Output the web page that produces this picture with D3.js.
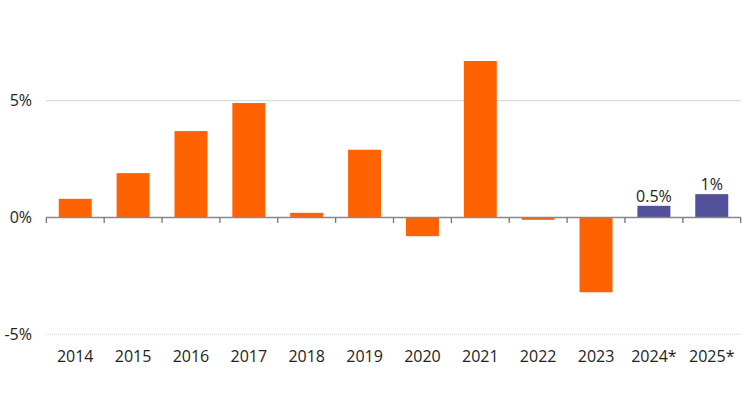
<!DOCTYPE html>
<html>
<head>
<meta charset="utf-8">
<script src="https://cdn.jsdelivr.net/npm/d3@7"></script>
<style>
  body { margin: 0; background: #fff; }
  text { font-family: "Open Sans", "Noto Sans", sans-serif; fill: #222; }
</style>
</head>
<body>
<div id="chart"></div>
<script>
const years = ["2014", "2015", "2016", "2017", "2018", "2019", "2020", "2021", "2022", "2023", "2024*", "2025*"];
const growth = [0.8, 1.9, 3.7, 4.9, 0.2, 2.9, -0.8, 6.7, -0.1, -3.2, 0.5, 1.0];
const forecast = [false, false, false, false, false, false, false, false, false, false, true, true];
const valueLabels = ["", "", "", "", "", "", "", "", "", "", "0.5%", "1%"];
const yTicks = [-5, 0, 5];

const width = 744;
const height = 413;

const data = years.map((y, i) => ({ year: y, value: growth[i], forecast: forecast[i], label: valueLabels[i] }));

const svg = d3.select("#chart")
  .append("svg")
  .attr("width", width)
  .attr("height", height);

const x = d3.scaleBand()
  .domain(years)
  .range([46.3, 740.7])
  .paddingInner(0.43)
  .paddingOuter(0.215);

const y = d3.scaleLinear()
  .domain([-5, 5])
  .range([334.3, 100.7]);

const step = x.step();

// gridlines
svg.append("line")
  .attr("x1", 46).attr("x2", 741)
  .attr("y1", y(5)).attr("y2", y(5))
  .attr("stroke", "#dcdcdc").attr("stroke-width", 1.2);

svg.append("line")
  .attr("x1", 46).attr("x2", 741)
  .attr("y1", y(-5)).attr("y2", y(-5))
  .attr("stroke", "#d0d0d0").attr("stroke-width", 1)
  .attr("stroke-dasharray", "1,1");

// y labels
svg.append("g")
  .selectAll("text")
  .data(yTicks)
  .join("text")
  .attr("x", 32)
  .attr("y", d => y(d))
  .attr("dy", "0.35em")
  .attr("text-anchor", "end")
  .attr("font-size", 16)
  .text(d => `${d}%`);

// bars
svg.append("g")
  .selectAll("rect")
  .data(data)
  .join("rect")
  .attr("x", d => x(d.year))
  .attr("y", d => y(Math.max(0, d.value)))
  .attr("width", x.bandwidth())
  .attr("height", d => Math.abs(y(d.value) - y(0)))
  .attr("fill", d => d.forecast ? "#525199" : "#ff6200");

// zero axis
svg.append("line")
  .attr("x1", 46).attr("x2", 741)
  .attr("y1", y(0)).attr("y2", y(0))
  .attr("stroke", "#888").attr("stroke-width", 1.3);

svg.append("g")
  .selectAll("line")
  .data(d3.range(years.length + 1))
  .join("line")
  .attr("x1", i => 46.3 + i * step)
  .attr("x2", i => 46.3 + i * step)
  .attr("y1", y(0))
  .attr("y2", y(0) + 5.5)
  .attr("stroke", "#777").attr("stroke-width", 1.3);

// year labels
svg.append("g")
  .selectAll("text")
  .data(years)
  .join("text")
  .attr("x", d => x(d) + x.bandwidth() / 2)
  .attr("y", 362)
  .attr("text-anchor", "middle")
  .attr("font-size", 16)
  .text(d => d);

// value labels on forecasts
svg.append("g")
  .selectAll("text")
  .data(data.filter(d => d.label))
  .join("text")
  .attr("x", d => x(d.year) + x.bandwidth() / 2)
  .attr("y", d => y(d.value) - 4)
  .attr("text-anchor", "middle")
  .attr("font-size", 16)
  .text(d => d.label);
</script>
</body>
</html>
